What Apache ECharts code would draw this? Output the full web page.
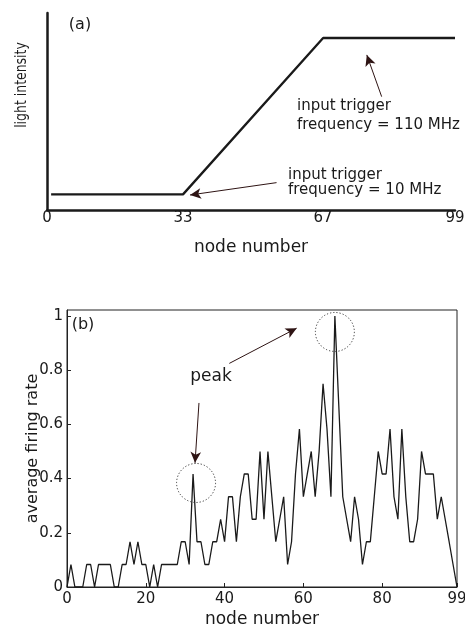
<!DOCTYPE html>
<html>
<head>
<meta charset="utf-8">
<script src="https://cdn.jsdelivr.net/npm/echarts@6/dist/echarts.min.js"></script>
<style>
  html, body { margin: 0; padding: 0; background: #fff; }
  #chart { width: 465px; height: 630px; }
</style>
</head>
<body>
<div id="chart"></div>
<script>
// panel (a): light intensity along the chain of nodes
const rampNodes = [1, 33, 67, 99];
const rampIntensity = [10, 10, 110, 110];   // input trigger frequency (MHz)
const rampTicks = [0, 33, 67, 99];

// panel (b): average firing rate of each node 0..99
const firingRate = [
  0, 0.083, 0, 0, 0, 0.083, 0.083, 0, 0.083, 0.083,
  0.083, 0.083, 0, 0, 0.083, 0.083, 0.167, 0.083, 0.167, 0.083,
  0.083, 0, 0.083, 0, 0.083, 0.083, 0.083, 0.083, 0.083, 0.167,
  0.167, 0.083, 0.417, 0.167, 0.167, 0.083, 0.083, 0.167, 0.167, 0.25,
  0.167, 0.333, 0.333, 0.167, 0.333, 0.417, 0.417, 0.25, 0.25, 0.5,
  0.25, 0.5, 0.333, 0.167, 0.25, 0.333, 0.083, 0.167, 0.417, 0.583,
  0.333, 0.417, 0.5, 0.333, 0.5, 0.75, 0.583, 0.333, 1, 0.667,
  0.333, 0.25, 0.167, 0.333, 0.25, 0.083, 0.167, 0.167, 0.333, 0.5,
  0.417, 0.417, 0.583, 0.333, 0.25, 0.583, 0.333, 0.167, 0.167, 0.25,
  0.5, 0.417, 0.417, 0.417, 0.25, 0.333, 0.25, 0.167, 0.083, 0
];
const nodeTicks = [0, 20, 40, 60, 80, 99];
const rateTicks = [0, 0.2, 0.4, 0.6, 0.8, 1];
const peakNodes = [32, 68];

const font = 'DejaVu Sans';
const ink = '#1a1a1a';
const arrowInk = '#2e1414';

const chart = echarts.init(document.getElementById('chart'));

// free text; squeeze shortens it along its own direction
const txt = (text, x, y, size, align, rotation, squeeze) => ({
  type: 'text',
  x, y,
  rotation: rotation || 0,
  scaleX: squeeze || 1,
  silent: true,
  style: {
    text,
    fill: ink,
    font: size + 'px "' + font + '"',
    align: align || 'left',
    verticalAlign: 'middle'
  }
});

const option = {
  animation: false,
  backgroundColor: '#fff',
  textStyle: { fontFamily: font },
  grid: [
    { left: 47, top: 13, width: 408, height: 197, outerBoundsMode: 'none' },
    { left: 67, top: 310, width: 390, height: 277, outerBoundsMode: 'none',
      show: true, borderColor: '#222', borderWidth: 1, backgroundColor: 'transparent' }
  ],
  xAxis: [
    {
      gridIndex: 0, type: 'value', min: 0, max: 99,
      axisLine: { lineStyle: { color: ink, width: 2.5 } },
      axisTick: { show: false },
      splitLine: { show: false },
      axisLabel: { customValues: rampTicks, fontSize: 15, color: ink, margin: 1, fontFamily: font },
      name: 'node number', nameLocation: 'middle', nameGap: 29, nameMoveOverlap: false,
      nameTextStyle: { fontSize: 17, color: ink, fontFamily: font }
    },
    {
      gridIndex: 1, type: 'value', min: 0, max: 99,
      axisLine: { lineStyle: { color: '#222', width: 1 } },
      axisTick: { inside: true, length: 4, customValues: nodeTicks, lineStyle: { color: '#222' } },
      splitLine: { show: false },
      axisLabel: { customValues: nodeTicks, fontSize: 15, color: ink, margin: 5, fontFamily: font },
      name: 'node number', nameLocation: 'middle', nameGap: 24, nameMoveOverlap: false,
      nameTextStyle: { fontSize: 17, color: ink, fontFamily: font }
    }
  ],
  yAxis: [
    {
      gridIndex: 0, type: 'value', min: 0, max: 126,
      axisLine: { show: true, lineStyle: { color: ink, width: 2.5 } },
      axisTick: { show: false },
      axisLabel: { show: false },
      splitLine: { show: false }
    },
    {
      gridIndex: 1, type: 'value', min: 0, max: 1.022,
      axisLine: { show: true, lineStyle: { color: '#222', width: 1 } },
      axisTick: { show: true, inside: true, length: 4, customValues: rateTicks, lineStyle: { color: '#222' } },
      axisLabel: { customValues: rateTicks, fontSize: 15, color: ink, margin: 4, fontFamily: font },
      splitLine: { show: false },
      name: 'average firing rate', nameLocation: 'middle', nameGap: 26, nameMoveOverlap: false,
      nameTextStyle: { fontSize: 16, color: ink, fontFamily: font }
    }
  ],
  series: [
    {
      type: 'line',
      xAxisIndex: 0, yAxisIndex: 0,
      data: rampNodes.map((n, i) => [n, rampIntensity[i]]),
      showSymbol: false, symbol: 'none',
      lineStyle: { color: ink, width: 2.3 },
      markLine: {
        silent: true, animation: false,
        symbol: ['none', 'arrow'], symbolSize: [8, 11],
        label: { show: false },
        lineStyle: { color: arrowInk, width: 1, type: 'solid' },
        data: [
          [{ coord: [81.2, 72.5] }, { coord: [77.6, 99.2] }],
          [{ coord: [55.7, 17.5] }, { coord: [34.7, 9.6] }]
        ]
      }
    },
    {
      type: 'line',
      xAxisIndex: 1, yAxisIndex: 1,
      data: firingRate.map((v, i) => [i, v]),
      showSymbol: false, symbol: 'none',
      lineStyle: { color: ink, width: 1.3 },
      markPoint: {
        silent: true, animation: false,
        symbol: 'circle', symbolSize: 39,
        label: { show: false },
        itemStyle: { color: 'rgba(0,0,0,0)', borderColor: '#333', borderWidth: 1, borderType: [1.2, 2] },
        data: [
          { coord: [peakNodes[0], firingRate[peakNodes[0]]], symbolOffset: [3, 9] },
          { coord: [peakNodes[1], firingRate[peakNodes[1]]], symbolOffset: [0, 16] }
        ]
      },
      markLine: {
        silent: true, animation: false,
        symbol: ['none', 'arrow'], symbolSize: [8, 11],
        label: { show: false },
        lineStyle: { color: arrowInk, width: 1, type: 'solid' },
        data: [
          [{ coord: [33.5, 0.679] }, { coord: [32.5, 0.458] }],
          [{ coord: [41.2, 0.825] }, { coord: [58.3, 0.955] }]
        ]
      }
    }
  ],
  graphic: [
    txt('(a)', 80, 25, 16, 'center'),
    txt('light intensity', 22, 85, 16, 'center', Math.PI / 2, 0.78),
    txt('input trigger', 297, 106, 15),
    txt('frequency = 110 MHz', 297, 125, 15),
    txt('input trigger', 288, 175, 15),
    txt('frequency = 10 MHz', 288, 190, 15),
    txt('(b)', 83, 325, 16, 'center'),
    txt('peak', 211, 377, 17, 'center')
  ]
};

chart.setOption(option);
</script>
</body>
</html>
